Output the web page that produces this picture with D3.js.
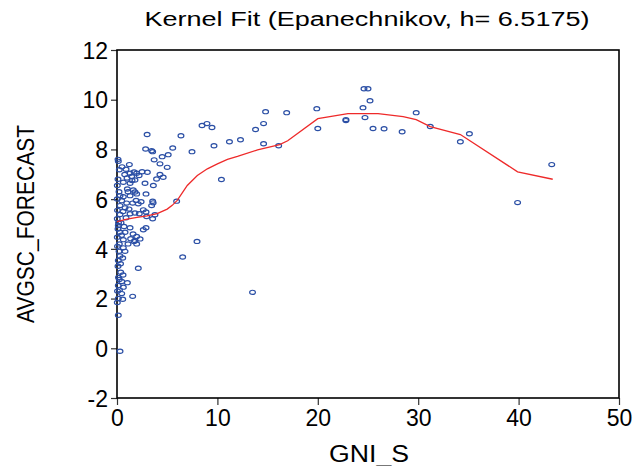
<!DOCTYPE html>
<html><head><meta charset="utf-8">
<script src="https://cdn.jsdelivr.net/npm/d3@7"></script>
<style>body{margin:0;background:#fff}svg{display:block}</style>
</head><body>
<script>
// Scatter data: GNI_S (x) vs AVGSC_FORECAST (y)
const gniS = [
 0.13,0.23,0.77,1.3,1.7,1.96,3.02,4.28,4.6,3.94,1.0,1.46,1.79,0.63,1.3,2.79,3.62,0.03,1.62,1.03,
 2.89,1.96,0.3,0.63,1.3,1.79,3.55,3.45,5.94,0.03,0.47,0.96,1.56,2.12,0.3,0.8,2.62,2.89,1.79,1.3,
 2.22,3.78,3.55,0.3,0.03,0.13,0.7,1.3,2.62,2.89,0.3,0.8,0.03,0.63,1.36,1.79,1.96,0.23,0.63,0.3,
 0.57,0.13,6.54,2.12,0.37,0.23,0.47,1.03,0.63,0.13,0.47,1.56,0.13,0.57,0.03,0.13,0.3,3.55,4.5,5.1,
 3.7,4.28,5.0,1.23,2.85,3.45,5.55,3.0,1.96,1.7,2.95,3.6,0.1,0.1,0.2,0.05,0.15,0.1,0.05,0.2,
 0.1,0.05,0.15,7.97,
 0.5,0.9,1.5,2.2,2.5,1.1,0.6,1.9,2.4,0.4,0.9,1.6,2.3,0.45,1.1,0.8,0.35,0.6,0.25,1.2,
 6.37,7.47,8.47,8.96,9.46,9.66,11.2,12.3,10.4,13.8,14.6,14.8,14.6,16.1,16.9,19.9,20.0,22.8,22.8,24.5,
 24.6,25.0,25.2,24.7,25.5,26.6,28.4,29.8,31.2,34.2,35.1,39.9,43.3,13.5
];
const avgscForecast = [
 7.52,7.18,6.99,7.04,7.09,7.04,7.08,6.99,6.88,6.81,6.85,6.91,6.77,6.68,6.64,6.64,6.55,6.55,6.37,6.41,
 6.21,6.21,6.14,6.10,6.14,6.29,5.92,5.74,5.92,6.01,5.94,5.84,5.84,5.81,5.74,5.65,5.57,5.48,5.44,5.41,
 5.41,5.37,5.21,5.38,5.21,4.94,4.90,4.85,4.77,4.85,4.67,4.67,4.47,4.37,4.41,4.34,4.20,4.20,4.04,3.71,
 3.63,3.53,3.67,3.22,3.06,2.77,2.69,2.64,2.46,2.53,2.20,2.09,2.00,1.97,1.84,1.33,-0.12,7.91,7.71,7.79,
 7.58,7.42,7.28,7.39,8.02,7.95,8.06,8.60,4.50,4.30,5.30,5.85,7.60,6.80,6.30,5.55,5.05,4.80,4.10,3.90,
 3.30,2.30,2.85,4.30,
 7.30,7.20,6.75,6.95,7.10,6.30,5.50,5.95,5.90,5.05,5.25,4.60,4.40,4.55,4.20,3.90,3.40,2.95,2.35,5.60,
 8.55,7.91,8.96,9.04,8.88,8.15,8.31,8.39,6.79,8.80,9.04,9.52,8.23,8.15,9.48,9.64,8.84,9.20,9.16,9.68,
 10.44,10.44,9.96,9.28,8.84,8.83,8.71,9.48,8.92,8.31,8.63,5.86,7.39,2.25
];
// Kernel fit line
const fitX = [0,1,2,3,4,5,5.5,6,6.5,7,8,9,10,11,12,14,16.2,17,20,23,26,28.5,29.8,31.2,34.2,39.9,43.4];
const fitY = [5.1,5.2,5.27,5.33,5.42,5.6,5.75,5.95,6.25,6.55,6.95,7.22,7.42,7.6,7.72,7.98,8.19,8.35,9.24,9.44,9.44,9.32,9.2,8.92,8.6,7.1,6.8];
const xTicks = [0,10,20,30,40,50];
const yTicks = [-2,0,2,4,6,8,10,12];
const titleText = "Kernel Fit (Epanechnikov, h= 6.5175)";
const xLabel = "GNI_S";
const yLabel = "AVGSC_FORECAST";

const W = 636, H = 466;
const L = 117, R = 619, T = 50, B = 398;
const svg = d3.select("body").append("svg").attr("width", W).attr("height", H);
const x = d3.scaleLinear().domain([0, 50]).range([L, R]);
const y = d3.scaleLinear().domain([-2, 12]).range([B, T]);
const font = "'Liberation Sans', Arial, sans-serif";
const fmt = d => String(d); // plain hyphen-minus like the original

// axes
const xa = svg.append("g").attr("transform", `translate(0,${B})`)
  .call(d3.axisBottom(x).tickValues(xTicks).tickSize(7).tickPadding(3).tickFormat(fmt));
const ya = svg.append("g").attr("transform", `translate(${L},0)`)
  .call(d3.axisLeft(y).tickValues(yTicks).tickSize(6).tickPadding(3).tickFormat(fmt));
[xa, ya].forEach(g => {
  g.select(".domain").remove();
  g.selectAll(".tick line").attr("stroke", "#333").attr("stroke-width", 1.2);
  g.selectAll("text").attr("font-family", font).attr("font-size", 23).attr("fill", "#000");
});
ya.selectAll("text").attr("dy", "0.36em");
xa.selectAll("text").attr("dy", "0.78em");

// frame
svg.append("rect").attr("x", L).attr("y", T).attr("width", R - L).attr("height", B - T)
  .attr("fill", "none").attr("stroke", "#000").attr("stroke-width", 1.6);

// points
svg.append("g").selectAll("ellipse").data(gniS.map((v, i) => [v, avgscForecast[i]]))
  .join("ellipse")
  .attr("cx", d => x(d[0])).attr("cy", d => y(d[1]))
  .attr("rx", 2.9).attr("ry", 2.1)
  .attr("fill", "none").attr("stroke", "#2b4fa5").attr("stroke-width", 1.2);

// fit line
svg.append("path").datum(fitX.map((v, i) => [v, fitY[i]]))
  .attr("d", d3.line().x(d => x(d[0])).y(d => y(d[1])))
  .attr("fill", "none").attr("stroke", "#ee2a2a").attr("stroke-width", 1.3);

// title & labels
svg.append("text").attr("x", 367).attr("y", 26).attr("text-anchor", "middle")
  .attr("font-family", font).attr("font-size", 20)
  .attr("textLength", 445).attr("lengthAdjust", "spacingAndGlyphs").text(titleText);
svg.append("text").attr("x", 369).attr("y", 462).attr("text-anchor", "middle")
  .attr("font-family", font).attr("font-size", 23)
  .attr("textLength", 80).attr("lengthAdjust", "spacingAndGlyphs").text(xLabel);
svg.append("text").attr("transform", "translate(34,224) rotate(-90)").attr("text-anchor", "middle")
  .attr("font-family", font).attr("font-size", 23)
  .attr("textLength", 198).attr("lengthAdjust", "spacingAndGlyphs").text(yLabel);
</script>
</body></html>
